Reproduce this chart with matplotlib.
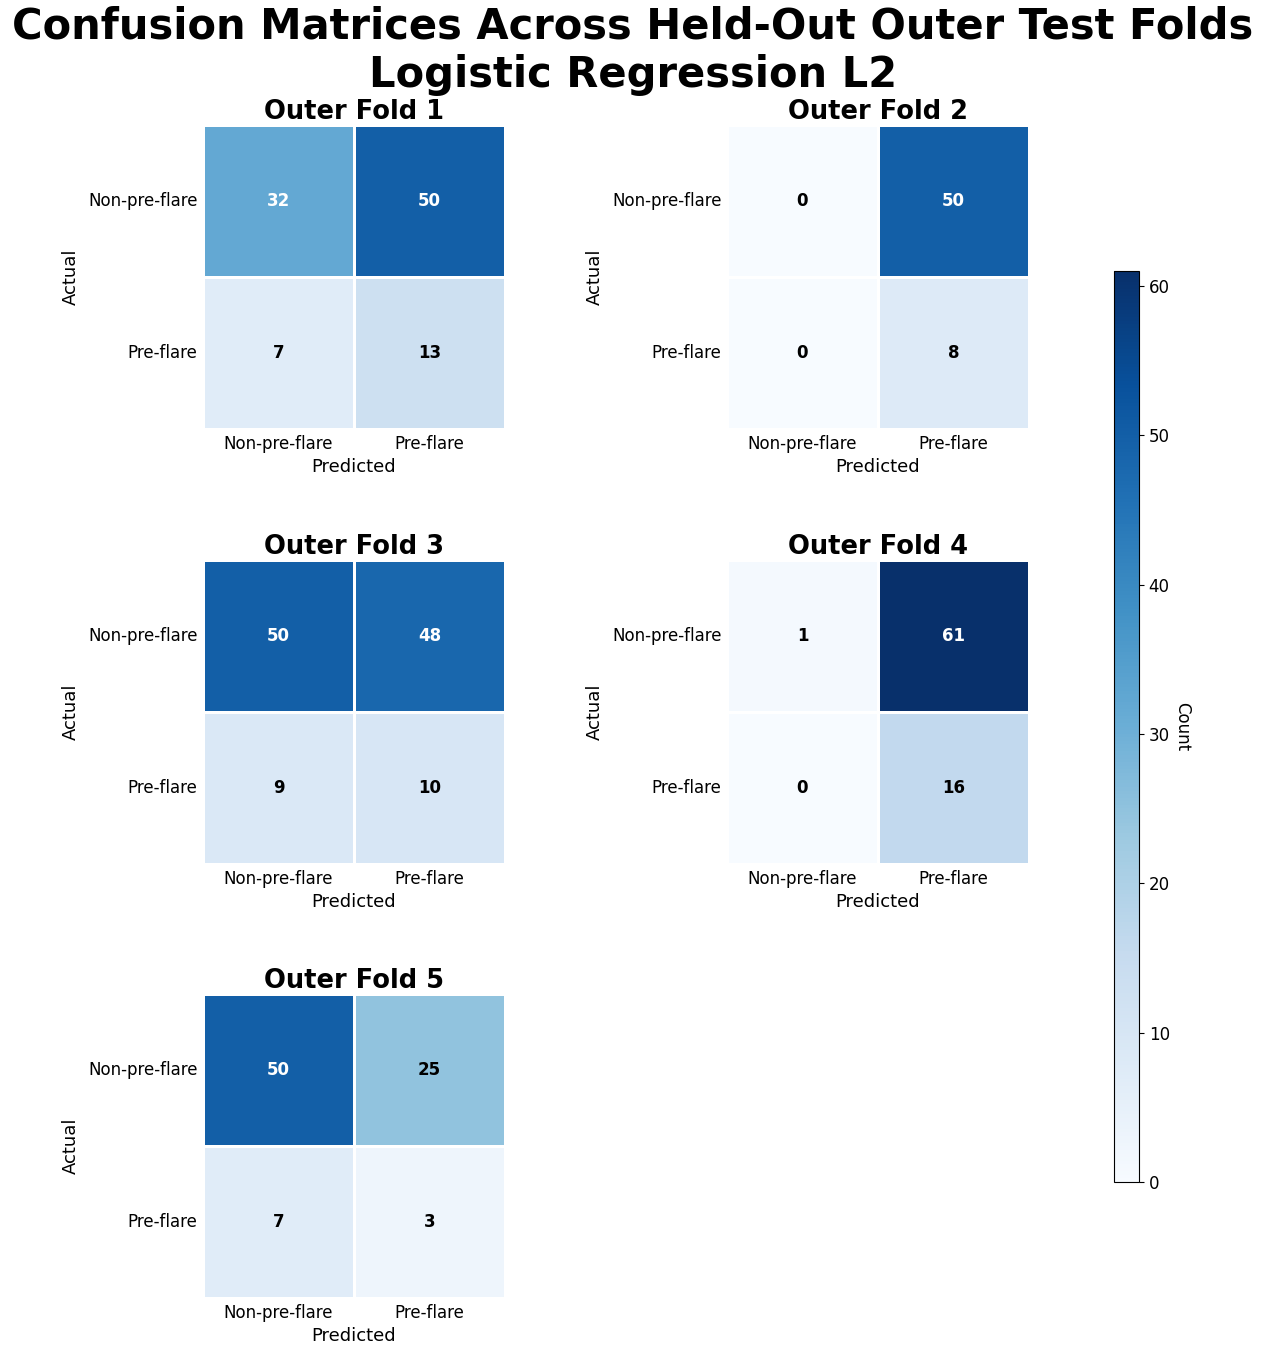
import numpy as np
import matplotlib
matplotlib.use("Agg")
import matplotlib.pyplot as plt
import seaborn as sns

# confusion matrices per outer fold (rows = actual, cols = predicted)
fold_names = ["Outer Fold 1", "Outer Fold 2", "Outer Fold 3", "Outer Fold 4", "Outer Fold 5"]
fold1 = [[32, 50], [7, 13]]
fold2 = [[0, 50], [0, 8]]
fold3 = [[50, 48], [9, 10]]
fold4 = [[1, 61], [0, 16]]
fold5 = [[50, 25], [7, 3]]
class_labels = ["Non-pre-flare", "Pre-flare"]

matrices = [np.array(m) for m in [fold1, fold2, fold3, fold4, fold5]]
vmax = max(m.max() for m in matrices)

fig = plt.figure(figsize=(12.66, 13.52), dpi=100)
W, H = 1266, 1352

# axes boxes in pixels: left, top, width, height
boxes = [(203, 125), (727, 125), (203, 560), (727, 560), (203, 994)]
aw, ah = 302, 304

for (x0, y0), name, cm in zip(boxes, fold_names, matrices):
    ax = fig.add_axes([x0 / W, (H - y0 - ah) / H, aw / W, ah / H])
    sns.heatmap(cm, annot=True, fmt="d", cmap="Blues", vmin=0, vmax=vmax,
                cbar=False, linewidths=1.0, linecolor="white", ax=ax,
                xticklabels=class_labels, yticklabels=class_labels,
                annot_kws={"fontsize": 12, "fontweight": "bold"})
    # dark annotations in plain black
    for t in ax.texts:
        if t.get_color() != "w":
            t.set_color("black")
    ax.set_title(name, fontsize=18.5, fontweight="bold", pad=1)
    ax.set_xlabel("Predicted", fontsize=13)
    ax.set_ylabel("Actual", fontsize=13, labelpad=6)
    ax.tick_params(length=0, labelsize=12, pad=4)
    plt.setp(ax.get_yticklabels(), rotation=0)
    plt.setp(ax.get_xticklabels(), rotation=0)

# shared colorbar
cax = fig.add_axes([1114 / W, (H - 1182) / H, 25 / W, 911 / H])
sm = plt.cm.ScalarMappable(cmap="Blues", norm=plt.Normalize(0, vmax))
cb = fig.colorbar(sm, cax=cax)
cb.set_label("Count", rotation=270, labelpad=15, fontsize=12)
cb.ax.tick_params(labelsize=12)

fig.suptitle("Confusion Matrices Across Held-Out Outer Test Folds\nLogistic Regression L2",
             fontsize=30, fontweight="bold", y=0.996, linespacing=1.2)

fig.savefig("out.png", dpi=100)
